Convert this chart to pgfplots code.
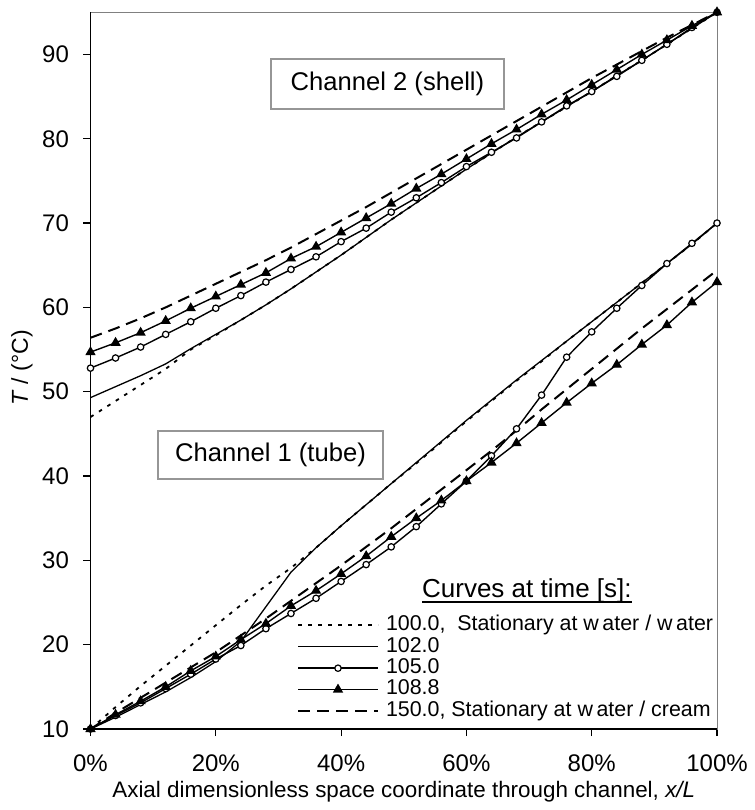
\documentclass[border=0pt]{standalone}
\usepackage{fontspec}
\setmainfont{Liberation Sans}
\usepackage{pgfplots}
\usepackage{pgfplotstable}
\pgfplotsset{compat=1.18}
\definecolor{boxgray}{RGB}{150,150,150}
\definecolor{framegray}{RGB}{128,128,128}
\newsavebox{\ulbox}
\newcommand{\thickul}[1]{\sbox{\ulbox}{#1}\rlap{\rule[-2.5pt]{\wd\ulbox}{1.1pt}}\usebox{\ulbox}}

\pgfplotstableread{
x   a100 a102 a105 a108 a150
0   10.0 10.0 10.0 10.0 10.0
4   12.6 11.4 11.6 11.7 11.9
8   15.1 12.9 13.1 13.3 13.7
12  17.5 14.4 14.8 15.0 15.5
16  19.9 16.1 16.5 16.9 17.3
20  22.3 18.0 18.3 18.6 19.1
24  24.7 20.4 19.9 20.6 21.1
28  27.0 24.5 21.9 22.5 23.1
32  29.1 28.6 23.7 24.6 25.2
36  31.5 31.5 25.5 26.4 27.3
40  34.1 34.1 27.5 28.4 29.4
44  36.6 36.6 29.5 30.5 31.6
48  39.1 39.1 31.6 32.8 33.8
52  41.5 41.6 34.0 35.0 36.1
56  44.0 44.1 36.7 37.1 38.4
60  46.5 46.6 39.4 39.4 40.7
64  48.9 49.0 42.4 41.6 43.0
68  51.3 51.4 45.6 43.9 45.4
72  53.6 53.7 49.6 46.3 47.9
76  56.0 56.0 54.1 48.7 50.3
80  58.3 58.3 57.1 51.0 52.7
84  60.6 60.6 59.9 53.2 55.1
88  62.9 62.9 62.6 55.6 57.5
92  65.2 65.2 65.2 57.9 59.8
96  67.5 67.5 67.6 60.6 62.1
100 70.0 70.0 70.0 63.0 64.4
}\tube

\pgfplotstableread{
x   a100 a102 a105 a108 a150
0   47.0 49.3 52.8 54.7 56.4
4   48.9 50.6 54.0 55.8 57.5
8   50.8 51.9 55.3 57.0 58.7
12  52.7 53.3 56.8 58.4 60.0
16  55.0 55.1 58.3 59.9 61.4
20  56.7 56.8 59.9 61.3 62.8
24  58.5 58.5 61.4 62.7 64.2
28  60.3 60.3 63.0 64.1 65.6
32  62.2 62.2 64.5 65.8 67.1
36  64.2 64.2 66.0 67.2 68.7
40  66.2 66.2 67.8 68.9 70.3
44  68.3 68.3 69.4 70.6 71.9
48  70.4 70.4 71.3 72.3 73.6
52  72.4 72.4 73.0 74.1 75.3
56  74.4 74.4 74.8 75.8 77.0
60  76.4 76.4 76.7 77.6 78.7
64  78.3 78.3 78.4 79.4 80.4
68  80.2 80.2 80.1 81.1 82.1
72  82.0 82.0 82.0 82.9 83.8
76  83.8 83.8 83.9 84.6 85.5
80  85.6 85.6 85.6 86.4 87.2
84  87.5 87.5 87.4 88.2 88.8
88  89.3 89.3 89.3 90.0 90.4
92  91.2 91.2 91.2 91.7 92.0
96  93.1 93.1 93.2 93.4 93.5
100 95.0 95.0 95.0 95.0 95.0
}\shell

\pgfplotsset{
  s100/.style={black, line width=0.9pt, dash pattern=on 1.8pt off 3.2pt, mark=none},
  s102/.style={black, line width=0.65pt, solid, mark=none},
  s105/.style={black, line width=0.7pt, solid, mark=*, mark size=1.6pt, mark options={solid, fill=white, draw=black, line width=0.6pt}},
  s108/.style={black, line width=0.7pt, solid, mark=triangle*, mark size=2.3pt, mark options={solid, fill=black, draw=black}},
  s150/.style={black, line width=1pt, dash pattern=on 6pt off 3.5pt, mark=none},
}

\begin{document}
\begin{tikzpicture}
\begin{axis}[
  scale only axis, width=313.25pt, height=358.35pt,
  xmin=0, xmax=100, ymin=10, ymax=95,
  xtick={0,20,40,60,80,100},
  xticklabels={0\%,20\%,40\%,60\%,80\%,100\%},
  ytick={10,20,...,90},
  tick pos=left,
  tick align=outside,
  major tick length=3.5pt,
  tick style={black, line width=0.6pt},
  axis line style={framegray, line width=0.5pt},
  /pgf/number format/assume math mode=true,
  tick label style={font=\fontsize{12}{14}\selectfont},
  xticklabel style={yshift=-5.85pt},
  yticklabel style={xshift=-3.75pt},
  xlabel={Axial dimensionless space coordinate through channel, \textit{x/L}},
  ylabel={\textit{T} / (°C)},
  every axis x label/.style={at={(axis description cs:0.5,-0.0949)}, anchor=base, font=\fontsize{11.2}{13}\selectfont},
  every axis y label/.style={at={(axis description cs:-0.1093,0.5037)}, anchor=center, rotate=90, font=\fontsize{11.5}{13}\selectfont},
  clip=false,
  legend style={at={(axis description cs:0.3296,0.1595)}, anchor=north west, draw=none, fill=none,
    inner sep=0pt, outer sep=0pt, column sep=3.5pt, row sep=0pt,
    nodes={inner sep=0pt, text height=8pt, text depth=2.7pt},
    font=\fontsize{10.7}{13}\selectfont},
  legend cell align=left,
  legend image code/.code={\draw[mark repeat=2,mark phase=2,#1] plot coordinates {(0pt,0pt) (20pt,0pt) (40pt,0pt)};},
]
\draw[black, line width=0.75pt] (rel axis cs:0,1) -- (rel axis cs:0,0) -- (rel axis cs:1,0);

\addplot[s100, forget plot] table[x=x, y=a100] {\shell};
\addplot[s100] table[x=x, y=a100] {\tube};
\addlegendentry{100.0,\ \ Stationary at w\,ater / w\,ater}

\addplot[s102, forget plot] table[x=x, y=a102] {\shell};
\addplot[s102] table[x=x, y=a102] {\tube};
\addlegendentry{102.0}

\addplot[s105, forget plot] table[x=x, y=a105] {\shell};
\addplot[s105] table[x=x, y=a105] {\tube};
\addlegendentry{105.0}

\addplot[s108, forget plot] table[x=x, y=a108] {\shell};
\addplot[s108] table[x=x, y=a108] {\tube};
\addlegendentry{108.8}

\addplot[s150, forget plot] table[x=x, y=a150] {\shell};
\addplot[s150] table[x=x, y=a150] {\tube};
\addlegendentry{150.0, Stationary at w\,ater / cream}

\node[draw=boxgray, fill=white, line width=0.8pt, minimum width=116.5pt, minimum height=25pt, inner sep=0pt,
  font=\fontsize{12.8}{15}\selectfont] at (axis description cs:0.474,0.900) {Channel 2 (shell)};
\node[draw=boxgray, fill=white, line width=0.8pt, minimum width=112.5pt, minimum height=24pt, inner sep=0pt,
  font=\fontsize{12.8}{15}\selectfont] at (axis description cs:0.2873,0.3821) {Channel 1 (tube)};
\node[anchor=base west, inner sep=0pt, font=\fontsize{13}{15}\selectfont] at (axis description cs:0.5287,0.1828) {\thickul{Curves at time [s]:}};
\end{axis}
\path[use as bounding box] ([xshift=-45.25pt, yshift=-40.5pt]current axis.south west) rectangle ([xshift=16.5pt, yshift=6.15pt]current axis.north east);
\end{tikzpicture}
\end{document}
